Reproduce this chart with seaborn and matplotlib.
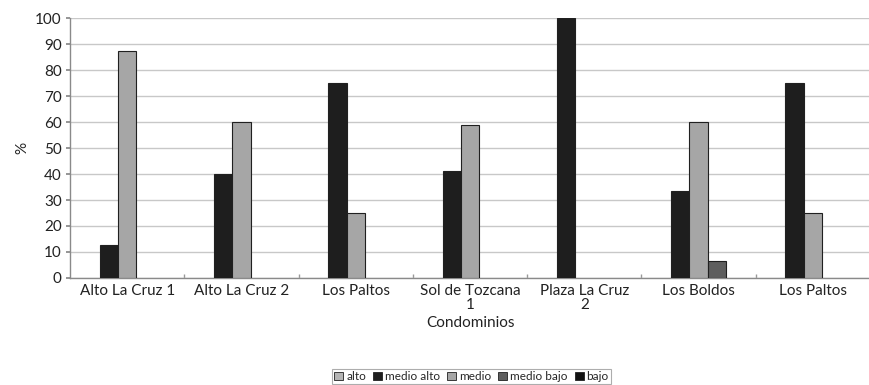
import numpy as np
import pandas as pd
import matplotlib
matplotlib.use("Agg")
import matplotlib.pyplot as plt
from matplotlib.patches import Patch
import seaborn as sns

# Condominios y porcentaje de hogares por nivel socioeconómico
condominios = ["Alto La Cruz 1", "Alto La Cruz 2", "Los Paltos", "Sol de Tozcana\n1",
               "Plaza La Cruz\n2", "Los Boldos", "Los Paltos"]
niveles = ["alto", "medio alto", "medio", "medio bajo", "bajo"]
alto = [0, 0, 0, 0, 0, 0, 0]
medio_alto = [12.5, 40, 75, 41.2, 100, 33.3, 75]
medio = [87.5, 60, 25, 58.8, 0, 60, 25]
medio_bajo = [0, 0, 0, 0, 0, 6.7, 0]
bajo = [0, 0, 0, 0, 0, 0, 0]
colores = ["#b4b4b4", "#1e1e1e", "#a6a6a6", "#5e5e5e", "#111111"]

sns.set_theme(style="white")
plt.rcParams["font.family"] = ["Lato", "DejaVu Sans"]

serie = {"alto": alto, "medio alto": medio_alto, "medio": medio,
         "medio bajo": medio_bajo, "bajo": bajo}
filas = []
for nivel in niveles:
    for i, v in enumerate(serie[nivel]):
        filas.append({"pos": i, "nivel": nivel, "pct": v})
df = pd.DataFrame(filas)
df_plot = df[df["pct"] > 0]

fig = plt.figure(figsize=(8.7, 3.85), dpi=100)
ax = fig.add_axes([0.0805, 0.278, 0.9195, 0.675])

sns.barplot(data=df_plot, x="pos", y="pct", hue="nivel", hue_order=niveles,
            order=list(range(len(condominios))), palette=colores,
            edgecolor="#202020", linewidth=0.8, width=0.8, ax=ax, legend=False,
            zorder=3)

ax.set_ylim(0, 100)
ax.set_yticks(np.arange(0, 101, 10))
ax.set_xlim(-0.5, len(condominios) - 0.5)
ax.set_xticks(range(len(condominios)))
ax.set_xticklabels(condominios, fontsize=11, color="#222222", linespacing=1.0)
ax.tick_params(axis="y", labelsize=11, labelcolor="#222222", length=3, color="#888888",
               left=True, pad=3)
ax.tick_params(axis="x", length=0, pad=4)
ax.set_xticks(np.arange(0.5, len(condominios) - 0.5, 1), minor=True)
ax.tick_params(axis="x", which="minor", direction="in", length=3, color="#999999",
               bottom=True)
ax.yaxis.grid(True, color="#c8c8c8", linewidth=1.0, zorder=0)
ax.set_axisbelow(True)
for s in ["top", "right"]:
    ax.spines[s].set_visible(False)
for s in ["left", "bottom"]:
    ax.spines[s].set_color("#8a8a8a")
    ax.spines[s].set_linewidth(1.0)

ax.set_ylabel("%", fontsize=11, color="#222222", labelpad=4)
ax.set_xlabel("Condominios", fontsize=11, color="#222222", labelpad=3)

handles = [Patch(facecolor=c, edgecolor="#202020", linewidth=0.6) for c in colores]
leg = fig.legend(handles, niveles, loc="lower center", bbox_to_anchor=(0.542, 0.0),
                 ncol=5, fontsize=8.5, frameon=True, fancybox=False,
                 handlelength=0.75, handleheight=0.75, handletextpad=0.25,
                 columnspacing=0.6, borderpad=0.2, borderaxespad=0.05)
leg.get_frame().set_edgecolor("#999999")
leg.get_frame().set_linewidth(0.8)

fig.savefig("out.png", dpi=100)
